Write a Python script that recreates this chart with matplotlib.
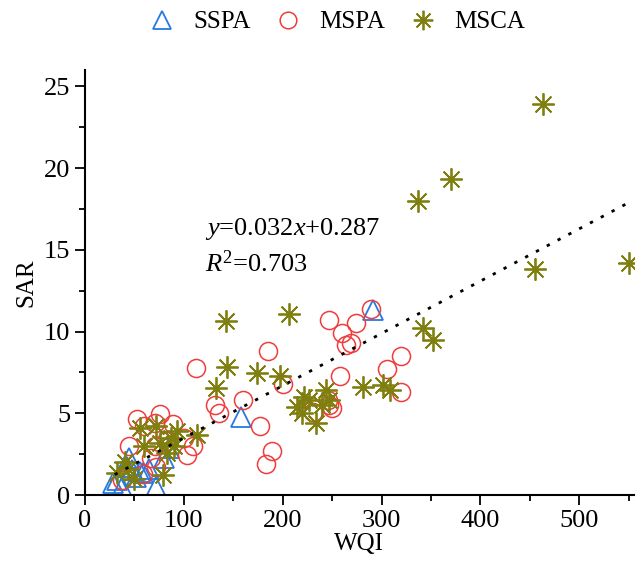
import numpy as np
import matplotlib
matplotlib.use("Agg")
import matplotlib.pyplot as plt
from matplotlib.ticker import MultipleLocator
from matplotlib.lines import Line2D

plt.rcParams["font.family"] = ["Liberation Serif", "DejaVu Serif"]
plt.rcParams["mathtext.fontset"] = "custom"
plt.rcParams["mathtext.rm"] = "Liberation Serif"
plt.rcParams["mathtext.it"] = "Liberation Serif:italic"

# ── data ──────────────────────────────────────────────────────────────────────
sspa_wqi = [28, 32, 37, 42, 45, 48, 52, 56, 59, 65, 72, 80, 85, 158, 291]
sspa_sar = [0.75, 0.92, 0.51, 1.73, 2.25, 1.5, 1.1, 1.4, 1.33, 1.6, 0.51, 2.25, 2.86, 4.8, 11.3]

mspa_wqi = [37, 45, 53, 59, 60, 67, 71, 71, 72, 76, 82, 89, 100, 103, 109, 112, 132, 136,
            160, 177, 183, 185, 189, 200, 231, 246, 247, 250, 258, 247, 260, 264, 269, 274,
            289, 305, 320, 320]
mspa_sar = [0.9, 3.0, 4.65, 1.3, 4.2, 2.25, 4.4, 3.0, 1.7, 4.96, 3.3, 4.35, 3.5, 2.45, 3.0, 7.8,
            5.5, 5.0, 5.8, 4.2, 1.9, 8.8, 2.7, 6.8, 5.1, 5.8, 5.5, 5.3, 7.25, 10.7, 9.9, 9.2,
            9.3, 10.5, 11.4, 7.7, 8.5, 6.3]

msca_wqi = [32, 40, 44, 50, 56, 60, 72, 76, 79, 83, 87, 90, 93, 113, 133, 143, 144, 174, 197,
            206, 214, 220, 222, 227, 234, 240, 244, 247, 281, 301, 309, 337, 342, 352, 370,
            455, 463, 550]
msca_sar = [1.33, 2.0, 1.6, 1.0, 4.1, 3.0, 4.2, 3.2, 1.22, 2.55, 3.47, 3.0, 3.9, 3.67, 6.53,
            10.67, 7.82, 7.45, 7.25, 11.08, 5.4, 5.0, 6.0, 5.8, 4.4, 5.5, 6.4, 5.8, 6.63, 6.74,
            6.43, 18.0, 10.2, 9.5, 19.35, 13.8, 23.9, 14.2]

slope, intercept, r2 = 0.032, 0.287, 0.703
fit_range = [30, 550]

blue = "#2878e0"
red = "#f03c3c"
olive = "#7f7f10"
star = (8, 2, 0)   # 8-arm asterisk

# ── plot ──────────────────────────────────────────────────────────────────────
fig = plt.figure(figsize=(6.41, 5.68), dpi=100)
ax = fig.add_axes([0.1326, 0.1285, 0.856, 0.7483])

ax.plot(sspa_wqi, sspa_sar, ls="none", marker="^", ms=15, mfc="none", mec=blue, mew=1.3)
ax.plot(mspa_wqi, mspa_sar, ls="none", marker="o", ms=13, mfc="none", mec=red, mew=1.1)
ax.plot(msca_wqi, msca_sar, ls="none", marker=star, ms=16, mec=olive, mew=1.3)
ax.plot(msca_wqi, msca_sar, ls="none", marker="o", ms=3, mfc=olive, mec=olive)

xf = np.linspace(fit_range[0], fit_range[1], 100)
ax.plot(xf, slope * xf + intercept, color="black", lw=2, ls=(0, (1.2, 3.2)))

ax.text(0.219, 0.612, f"$y$={slope:.3f}$x$+{intercept:.3f}", fontsize=19,
        transform=ax.transAxes)
ax.text(0.219, 0.525, f"$R^2$={r2:.3f}", fontsize=19, transform=ax.transAxes)

ax.set_xlim(0, 555)
ax.set_ylim(0, 26)
ax.xaxis.set_major_locator(MultipleLocator(100))
ax.xaxis.set_minor_locator(MultipleLocator(50))
ax.yaxis.set_major_locator(MultipleLocator(5))
ax.yaxis.set_minor_locator(MultipleLocator(2.5))
ax.tick_params(which="major", length=7, width=1.3, labelsize=19, direction="out")
ax.tick_params(which="minor", length=4, width=1.3, direction="out")
for s in ["top", "right"]:
    ax.spines[s].set_visible(False)
for s in ["left", "bottom"]:
    ax.spines[s].set_linewidth(1.5)

ax.set_xlabel("WQI", fontsize=18, labelpad=1)
ax.set_ylabel("SAR", fontsize=18, labelpad=5)

handles = [
    Line2D([], [], ls="none", marker="^", ms=13, mfc="none", mec=blue, mew=1.3),
    Line2D([], [], ls="none", marker="o", ms=12, mfc="none", mec=red, mew=1.1),
    Line2D([], [], ls="none", marker=star, ms=14, mec=olive, mew=1.3),
]
fig.legend(handles, ["SSPA", "MSPA", "MSCA"], loc="center", bbox_to_anchor=(0.526, 0.961),
           ncol=3, frameon=False, fontsize=18, handlelength=1.0, handletextpad=0.75,
           columnspacing=1.0, borderpad=0)

plt.savefig("out.png", dpi=100)
